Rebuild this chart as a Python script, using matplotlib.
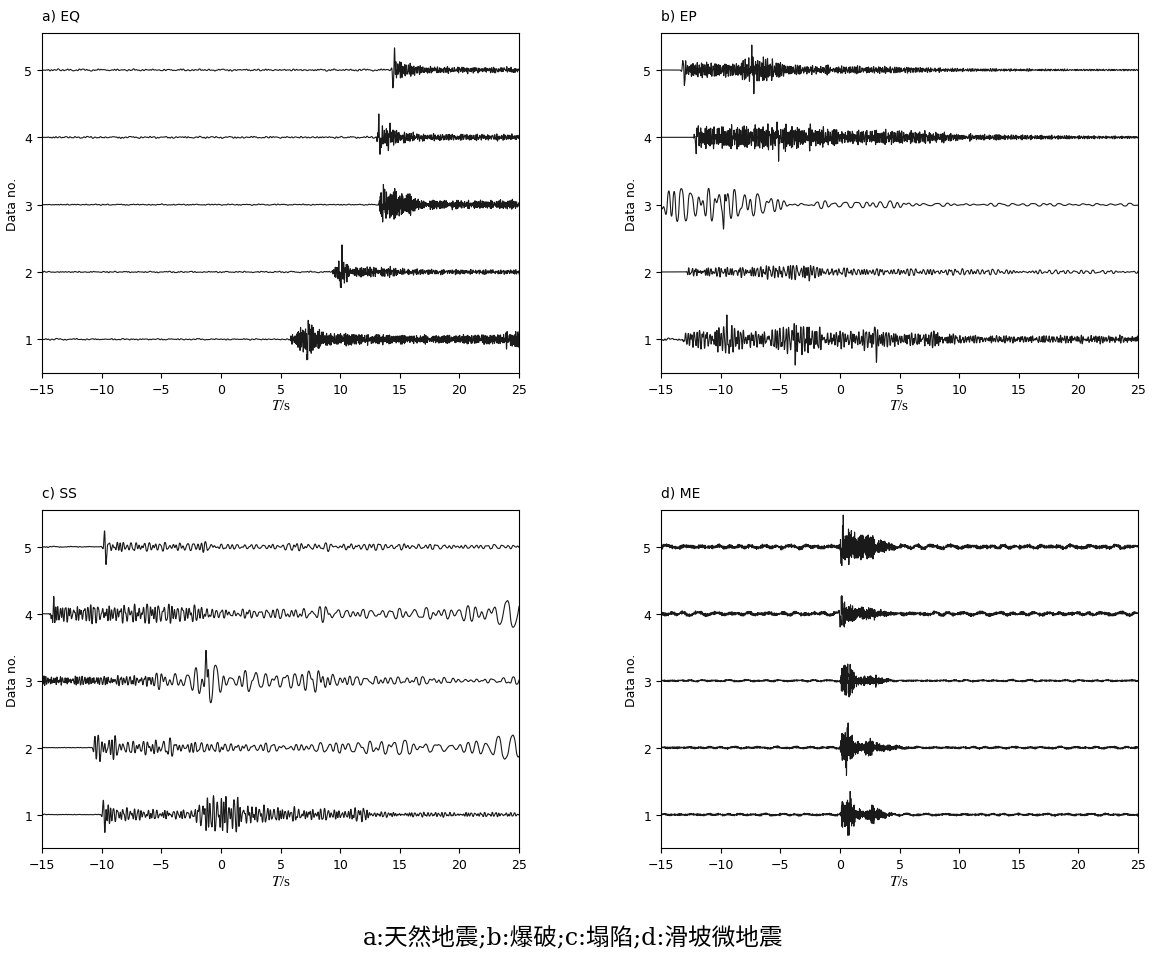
import numpy as np
import matplotlib
matplotlib.use('Agg')
import matplotlib.pyplot as plt

plt.rcParams['mathtext.fontset'] = 'stix'

dt = 0.01
t = np.arange(-15, 25 + dt / 2, dt)

titles = ['a) EQ', 'b) EP', 'c) SS', 'd) ME']
caption = 'a:天然地震;b:爆破;c:塌陷;d:滑坡微地震'
trace_no = [1, 2, 3, 4, 5]
xticks = [-15, -10, -5, 0, 5, 10, 15, 20, 25]

# values, one entry per trace (Data no. 1..5)
# onset time (s), background noise level, dominant period breakpoints (t, s),
# amplitude envelope breakpoints (t, amp), strongest single swings (t, amp)

# a) EQ
eq_onset = [5.8, 9.3, 13.2, 13.0, 14.3]
eq_noise = [0.006, 0.006, 0.005, 0.008, 0.008]
eq_noise_period = 0.35
eq_period = [[(-15, 0.1), (25, 0.12)], [(-15, 0.12), (25, 0.15)], [(-15, 0.1), (25, 0.12)],
             [(-15, 0.12), (25, 0.15)], [(-15, 0.12), (25, 0.15)]]
eq_env = [
    [(5.8, 0), (6.0, 0.1), (7.0, 0.17), (8.2, 0.15), (8.6, 0.08), (9.5, 0.07), (10.5, 0.08),
     (12, 0.06), (14, 0.06), (16, 0.05), (19, 0.05), (22, 0.06), (23.5, 0.06), (24, 0.1), (25, 0.1)],
    [(9.3, 0), (9.5, 0.06), (9.9, 0.15), (10.7, 0.12), (11.2, 0.06), (12.5, 0.06), (14.2, 0.06),
     (15, 0.04), (18, 0.03), (25, 0.025)],
    [(13.2, 0), (13.4, 0.19), (14.5, 0.18), (15.8, 0.14), (16.5, 0.06), (20, 0.05), (23, 0.05),
     (24, 0.06), (25, 0.05)],
    [(13.0, 0), (13.3, 0.13), (14.2, 0.13), (15, 0.07), (17, 0.04), (25, 0.035)],
    [(14.3, 0), (14.6, 0.13), (15.5, 0.08), (16.2, 0.08), (17, 0.04), (24, 0.03), (24.5, 0.04), (25, 0.03)],
]
eq_spikes = [[(7.3, 0.3)], [(10.1, 0.3)], [(13.6, 0.17)], [(13.3, -0.3), (14.1, 0.15)], [(14.5, 0.33)]]

# b) EP
ep_onset = [-13.2, -12.9, -15.0, -12.3, -13.2]
ep_noise = [0.008, 0.0, 0.0, 0.0, 0.0]
ep_noise_period = 0.3
ep_period = [[(-15, 0.25), (25, 0.2)], [(-15, 0.2), (5, 0.35), (25, 0.6)], [(-15, 0.7), (0, 0.9), (25, 1.0)],
             [(-15, 0.12), (25, 0.15)], [(-15, 0.13), (25, 0.2)]]
ep_env = [
    [(-13.2, 0), (-13, 0.1), (-11, 0.12), (-9.5, 0.2), (-8, 0.1), (-6, 0.1), (-4, 0.2), (-2, 0.18),
     (-1.5, 0.1), (1, 0.1), (3, 0.14), (4, 0.08), (7, 0.08), (8.5, 0.1), (10, 0.05), (15, 0.04),
     (20, 0.05), (25, 0.04)],
    [(-12.9, 0), (-12.7, 0.05), (-8, 0.06), (-6, 0.08), (-3, 0.1), (-1.5, 0.05), (0, 0.05), (4, 0.04),
     (10, 0.04), (15, 0.025), (25, 0.02)],
    [(-15, 0.2), (-14, 0.2), (-12, 0.17), (-10.5, 0.25), (-9, 0.2), (-7, 0.14), (-5, 0.1), (-4.3, 0.03),
     (-2, 0.03), (-1, 0.06), (0, 0.03), (4, 0.05), (5, 0.07), (6, 0.02), (25, 0.015)],
    [(-12.3, 0), (-12, 0.13), (-8, 0.14), (-5, 0.15), (-1, 0.12), (0, 0.08), (3, 0.09), (8, 0.07),
     (10, 0.04), (15, 0.03), (20, 0.02), (25, 0.015)],
    [(-13.2, 0), (-13, 0.1), (-8.5, 0.08), (-7.5, 0.2), (-5, 0.1), (-4, 0.06), (0, 0.05), (5, 0.04),
     (10, 0.02), (20, 0.01), (25, 0.01)],
]
ep_spikes = [[(-9.4, -0.3), (-3.8, -0.3), (3.0, -0.3)], [(-2.5, 0.13)], [(-9.7, 0.28)],
             [(-12.0, 0.2), (-5.2, -0.25)], [(-7.3, -0.3), (-13.1, -0.2)]]

# c) SS
ss_onset = [-10.0, -10.8, -15.0, -14.4, -9.8]
ss_noise = [0.003, 0.003, 0.0, 0.003, 0.004]
ss_noise_period = 0.3
ss_period = [[(-15, 0.3), (25, 0.3)], [(-15, 0.3), (0, 0.5), (10, 0.8), (25, 1.2)],
             [(-15, 0.15), (-6, 0.3), (-4, 0.8), (5, 0.8), (10, 0.65), (25, 0.7)],
             [(-15, 0.25), (0, 0.4), (10, 0.7), (20, 0.9), (25, 1.1)],
             [(-15, 0.3), (0, 0.5), (25, 0.6)]]
ss_env = [
    [(-10, 0), (-9.8, 0.15), (-8.5, 0.08), (-5, 0.06), (-2.2, 0.05), (-1.8, 0.2), (0.5, 0.25), (2, 0.15),
     (3.5, 0.1), (5, 0.09), (8, 0.07), (10, 0.06), (12, 0.1), (12.5, 0.03), (25, 0.025)],
    [(-10.8, 0), (-10.5, 0.2), (-9, 0.15), (-8, 0.06), (-5, 0.12), (-3, 0.08), (-1, 0.06), (2, 0.05),
     (8, 0.05), (12, 0.1), (14, 0.1), (17, 0.06), (20, 0.07), (23, 0.15), (25, 0.15)],
    [(-15, 0.05), (-7, 0.06), (-5, 0.1), (-3, 0.15), (-2, 0.2), (-1, 0.25), (0, 0.2), (1, 0.05),
     (2.5, 0.17), (4, 0.1), (6, 0.08), (8, 0.17), (9.5, 0.15), (10, 0.06), (20, 0.04), (21, 0.01),
     (22, 0.04), (25, 0.04)],
    [(-14.4, 0), (-14.2, 0.2), (-13.5, 0.1), (-5, 0.12), (-3, 0.12), (0, 0.05), (5, 0.06), (8.5, 0.1),
     (10, 0.05), (15, 0.06), (20, 0.1), (23, 0.15), (25, 0.18)],
    [(-9.8, 0), (-9.5, 0.1), (-8, 0.06), (-6, 0.05), (-2, 0.05), (-1.5, 0.08), (0, 0.03), (5, 0.03),
     (6, 0.05), (25, 0.02)],
]
ss_spikes = [[(-9.8, -0.27), (0.5, -0.28)], [(-10.2, -0.3)], [(-1.2, -0.3)], [(-14.1, 0.27)], [(-9.7, -0.3)]]

# d) ME
me_onset = [0.0, 0.0, 0.0, 0.0, 0.0]
me_noise = [0.012, 0.012, 0.01, 0.02, 0.022]
me_noise_period = 0.1
me_period = [[(-15, 0.06), (25, 0.06)]] * 5
me_env = [
    [(0, 0), (0.2, 0.18), (0.9, 0.22), (1.4, 0.06), (2.3, 0.05), (2.8, 0.14), (3.3, 0.06), (4, 0.02), (5, 0)],
    [(0, 0), (0.2, 0.22), (0.8, 0.22), (1.3, 0.08), (2, 0.05), (2.5, 0.12), (3, 0.05), (4, 0.03), (6, 0)],
    [(0, 0), (0.2, 0.2), (1.0, 0.18), (1.3, 0.06), (2, 0.05), (3, 0.06), (3.8, 0.02), (4.5, 0)],
    [(0, 0), (0.1, 0.18), (0.5, 0.12), (1.5, 0.07), (2.5, 0.06), (3.5, 0.03), (4.5, 0)],
    [(0, 0), (0.1, 0.24), (0.6, 0.2), (1.5, 0.14), (2.5, 0.16), (3, 0.1), (4, 0.05), (5, 0)],
]
me_spikes = [[(0.8, 0.22)], [(0.6, 0.22)], [(0.7, -0.2)], [(0.1, 0.22)], [(0.2, 0.22)]]

panels = [
    (eq_onset, eq_noise, eq_noise_period, eq_period, eq_env, eq_spikes),
    (ep_onset, ep_noise, ep_noise_period, ep_period, ep_env, ep_spikes),
    (ss_onset, ss_noise, ss_noise_period, ss_period, ss_env, ss_spikes),
    (me_onset, me_noise, me_noise_period, me_period, me_env, me_spikes),
]

MULTS = [0.71, 0.83, 0.94, 1.0, 1.07, 1.19, 1.33, 1.52, 1.77]
PHASES = [0.3, 1.7, 2.9, 4.1, 5.3, 0.9, 2.2, 3.6, 4.8]


def carrier(per, k):
    pt, pv = zip(*per)
    P = np.interp(t, pt, pv)
    ph = 2 * np.pi * np.cumsum(dt / P)
    out = np.zeros_like(t)
    for i, (m, p0) in enumerate(zip(MULTS, PHASES)):
        out += np.sin(m * ph + p0 + 1.37 * k * (i + 1))
    # soft limit so the envelope sets the visible amplitude
    c = out / 2.6
    return 1.2 * c / (1 + np.abs(c) / 2.2)


def trace(onset, noise, noise_per, per, env, spikes, k):
    et, ea = zip(*env)
    a = np.interp(t, et, ea, left=0.0)
    a[t < onset] = 0.0
    y = a * carrier(per, k)
    # background
    y += noise * carrier([(-15, noise_per), (25, noise_per)], k + 7)
    y += 0.8 * noise * carrier([(-15, 1.4), (25, 1.4)], k + 3)
    for ts, amp in spikes:
        ps = 0.3
        y += amp * np.sin(2 * np.pi * (t - ts) / ps) * np.exp(-((t - ts) / (0.45 * ps)) ** 2)
    return y


fig = plt.figure(figsize=(11.55, 9.54), dpi=100)
positions = [[0.0364, 0.608, 0.413, 0.3564], [0.5723, 0.608, 0.413, 0.3564],
             [0.0364, 0.110, 0.413, 0.3544], [0.5723, 0.110, 0.413, 0.3544]]

for j, (pos, title, (onset, noise, npd, per, env, spikes)) in enumerate(zip(positions, titles, panels)):
    ax = fig.add_axes(pos)
    for i, n in enumerate(trace_no):
        y = trace(onset[i], noise[i], npd, per[i], env[i], spikes[i], i + 5 * j)
        ax.plot(t, n + y, color='#1a1a1a', lw=0.8)
    ax.set_xlim(-15, 25)
    ax.set_ylim(0.5, 5.55)
    ax.set_xticks(xticks)
    ax.set_yticks(trace_no)
    ax.tick_params(labelsize=9)
    ax.set_ylabel('Data no.', fontsize=9)
    ax.set_xlabel(r'$T$/s', fontsize=11, family='Liberation Serif', labelpad=2)
    ax.set_title(title, loc='left', fontsize=10, pad=10)

fig.text(0.496, 0.017, caption, ha='center', va='center', fontsize=17,
         family=['DejaVu Serif', 'Noto Sans CJK SC'])

fig.savefig('out.png', dpi=100)
